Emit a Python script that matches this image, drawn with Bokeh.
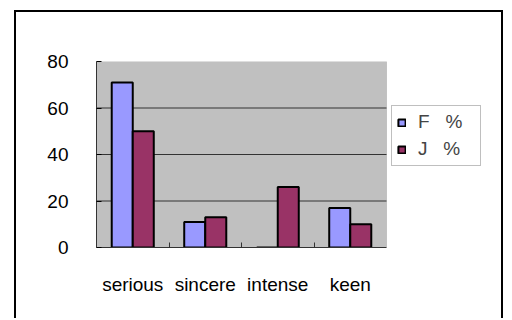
from bokeh.plotting import figure
from bokeh.models import (ColumnDataSource, Legend, LegendItem, FixedTicker,
                          Range1d, BoxAnnotation)
from bokeh.transform import dodge
from bokeh.embed import file_html
from bokeh.resources import INLINE

# ---- data ----
categories = ["serious", "sincere", "intense", "keen"]
f_pct = [71, 11, 0, 17]
j_pct = [50, 13, 26, 10]
y_ticks = [0, 20, 40, 60, 80]
series_labels = ["F\u00a0\u00a0\u00a0%", "J\u00a0\u00a0\u00a0%"]

FONT = "Liberation Sans"
n = len(categories)
centers = [i + 0.5 for i in range(n)]

src = ColumnDataSource(dict(xc=centers, f=f_pct, j=j_pct))
grid_src = ColumnDataSource(dict(y=y_ticks[1:-1]))

# frame spans the plot area plus the legend area on the right
x_end = n * 394 / 290

p = figure(
    x_range=Range1d(0, x_end),
    y_range=Range1d(0, 80),
    width=489, height=308,
    output_backend="svg",
    toolbar_location=None,
    min_border_left=80, min_border_right=15,
    min_border_top=49, min_border_bottom=73,
    styles={"border": "2px solid black", "border-bottom": "none"},
)
p.margin = (10, 0, 0, 14)

p.background_fill_color = "white"
p.border_fill_color = "white"
p.outline_line_color = None
p.xgrid.grid_line_color = None
p.ygrid.grid_line_color = None

# grey plot area
p.add_layout(BoxAnnotation(left=0, right=n, bottom=y_ticks[0], top=y_ticks[-1],
                           fill_color="#C0C0C0", fill_alpha=1,
                           line_color="#808080", line_width=1, level="underlay"))

# horizontal gridlines across the plot area only
p.segment(x0=0, x1=n, y0="y", y1="y", source=grid_src,
          line_color="#333333", line_width=1)

p.yaxis.ticker = FixedTicker(ticks=y_ticks)
p.yaxis.major_tick_in = 5
p.yaxis.major_tick_out = 0
p.yaxis.minor_tick_line_color = None
p.yaxis.major_label_standoff = 28
p.yaxis.axis_line_color = "#333333"

p.xaxis.ticker = FixedTicker(ticks=centers, minor_ticks=list(range(1, n)))
p.xaxis.major_label_overrides = {c: lab for c, lab in zip(centers, categories)}
p.xaxis.bounds = (0, n)
p.xaxis.major_tick_line_color = None
p.xaxis.minor_tick_in = 5
p.xaxis.minor_tick_out = 0
p.xaxis.minor_tick_line_color = "#333333"
p.xaxis.major_label_standoff = 20
p.xaxis.axis_line_color = "#333333"

for ax in (p.xaxis, p.yaxis):
    ax.major_label_text_font = FONT
    ax.major_label_text_font_size = "19px"
    ax.major_label_text_color = "black"

rf = p.vbar(x=dodge("xc", -0.145), top="f", width=0.29, source=src,
            fill_color="#9999FF", line_color="black", line_width=2)
rj = p.vbar(x=dodge("xc", 0.145), top="j", width=0.29, source=src,
            fill_color="#993366", line_color="black", line_width=2)

legend = Legend(
    items=[LegendItem(label=series_labels[0], renderers=[rf]),
           LegendItem(label=series_labels[1], renderers=[rj])],
    location=(295, 81),
    label_text_font=FONT, label_text_font_size="19px",
    glyph_width=9, glyph_height=9,
    label_height=14, label_width=57, label_standoff=12,
    spacing=5, padding=5, margin=0,
    border_line_color="#808080", border_line_width=1,
    background_fill_color="white", background_fill_alpha=1,
)
p.add_layout(legend)

open("out.html", "w").write(file_html(p, INLINE))
